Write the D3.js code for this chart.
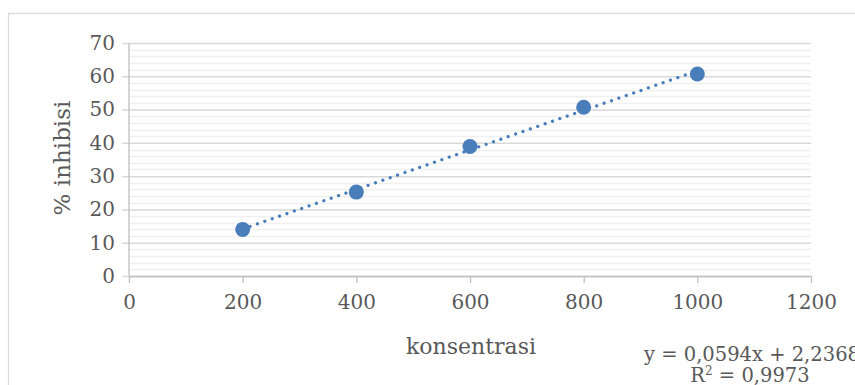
<!DOCTYPE html>
<html>
<head>
<meta charset="utf-8">
<script src="https://cdn.jsdelivr.net/npm/d3@7"></script>
<style>
  body { margin: 0; background: #fff; }
  svg { display: block; }
  .tick text { font-family: "DejaVu Serif", serif; fill: #595959; }
</style>
</head>
<body>
<div id="chart"></div>
<script>
// data
const konsentrasi = [200, 400, 600, 800, 1000];
const inhibisi = [14.0, 25.2, 38.9, 50.7, 60.7];
const xTicks = [0, 200, 400, 600, 800, 1000, 1200];
const yTicks = [0, 10, 20, 30, 40, 50, 60, 70];
const slope = 0.0594;
const intercept = 2.2368;
const eqText = "y = 0,0594x + 2,2368";
const r2Text = "0,9973";

const width = 855;
const height = 385;
const margin = { top: 43, right: 44, bottom: 109, left: 129 };

const svg = d3.select("#chart")
  .append("svg")
  .attr("width", width)
  .attr("height", height);

// chart border
svg.append("rect")
  .attr("x", 8.5)
  .attr("y", 13.5)
  .attr("width", width)
  .attr("height", height)
  .attr("fill", "none")
  .attr("stroke", "#d9d9d9")
  .attr("stroke-width", 1.3);

const x = d3.scaleLinear()
  .domain([0, 1200])
  .range([margin.left, width - margin.right]);

const y = d3.scaleLinear()
  .domain([0, 70])
  .range([height - margin.bottom, margin.top]);

// minor gridlines
svg.append("g")
  .selectAll("line")
  .data(d3.range(0, 70, 2).filter(v => v % 10 !== 0))
  .join("line")
  .attr("x1", x(0))
  .attr("x2", x(1200))
  .attr("y1", d => Math.round(y(d)) + 0.5)
  .attr("y2", d => Math.round(y(d)) + 0.5)
  .attr("stroke", "#efefef")
  .attr("stroke-width", 1.3);

// major gridlines + y axis
svg.append("g")
  .attr("transform", `translate(${x(0)}, 0)`)
  .call(d3.axisLeft(y).tickValues(yTicks).tickSize(-(x(1200) - x(0))).tickPadding(14))
  .call(g => g.select(".domain").remove())
  .call(g => g.selectAll(".tick line")
    .attr("x1", -7)
    .attr("stroke", "#d9d9d9")
    .attr("stroke-width", 1.5))
  .call(g => g.selectAll(".tick text").attr("font-size", 20));

// y axis line
svg.append("line")
  .attr("x1", x(0)).attr("x2", x(0))
  .attr("y1", y(70)).attr("y2", y(0))
  .attr("stroke", "#bfbfbf")
  .attr("stroke-width", 1.3);

// x axis
svg.append("g")
  .attr("transform", `translate(0, ${y(0)})`)
  .call(d3.axisBottom(x).tickValues(xTicks).tickFormat(d3.format("d"))
    .tickSize(7).tickPadding(12).tickSizeOuter(0))
  .call(g => g.select(".domain").attr("stroke", "#bfbfbf").attr("stroke-width", 1.3))
  .call(g => g.selectAll(".tick line").attr("stroke", "#bfbfbf").attr("stroke-width", 1.3))
  .call(g => g.selectAll(".tick text").attr("font-size", 20));

// trendline
svg.append("line")
  .attr("x1", x(konsentrasi[0]))
  .attr("y1", y(slope * konsentrasi[0] + intercept))
  .attr("x2", x(konsentrasi[konsentrasi.length - 1]))
  .attr("y2", y(slope * konsentrasi[konsentrasi.length - 1] + intercept))
  .attr("stroke", "#4a7ebb")
  .attr("stroke-width", 3.3)
  .attr("stroke-linecap", "round")
  .attr("stroke-dasharray", "0.01, 7.8");

// markers
svg.append("g")
  .selectAll("circle")
  .data(konsentrasi)
  .join("circle")
  .attr("cx", d => x(d))
  .attr("cy", (d, i) => y(inhibisi[i]))
  .attr("r", 7.5)
  .attr("fill", "#4a7ebb");

// axis titles
svg.append("text")
  .attr("x", 471)
  .attr("y", 354)
  .attr("text-anchor", "middle")
  .attr("font-family", "DejaVu Serif, serif")
  .attr("font-size", 22)
  .attr("fill", "#595959")
  .text("konsentrasi");

svg.append("text")
  .attr("transform", "translate(70, 158) rotate(-90)")
  .attr("text-anchor", "middle")
  .attr("font-family", "DejaVu Serif, serif")
  .attr("font-size", 23)
  .attr("fill", "#595959")
  .text("% inhibisi");

// trendline label
const eq = svg.append("text")
  .attr("font-family", "DejaVu Serif, serif")
  .attr("font-size", 19.5)
  .attr("fill", "#595959");

eq.append("tspan")
  .attr("x", 644)
  .attr("y", 361)
  .text(eqText);

const r2 = eq.append("tspan")
  .attr("x", 750)
  .attr("y", 382)
  .attr("text-anchor", "middle");
r2.append("tspan").text("R");
r2.append("tspan").attr("baseline-shift", "super").attr("font-size", 12).text("2");
r2.append("tspan").text(" = " + r2Text);
</script>
</body>
</html>
